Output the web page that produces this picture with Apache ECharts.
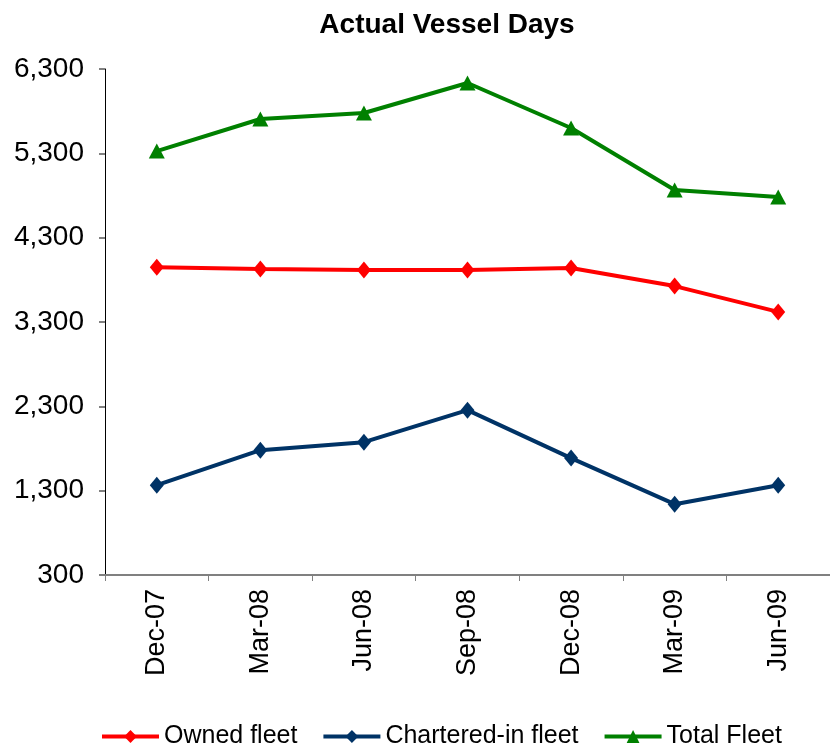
<!DOCTYPE html>
<html>
<head>
<meta charset="utf-8">
<script src="https://cdn.jsdelivr.net/npm/echarts@6/dist/echarts.min.js"></script>
<style>
  html, body { margin: 0; padding: 0; background: #fff; }
  #chart { width: 830px; height: 747px; }
</style>
</head>
<body>
<div id="chart"></div>
<script>
const categories = ['Dec-07', 'Mar-08', 'Jun-08', 'Sep-08', 'Dec-08', 'Mar-09', 'Jun-09']
const ownedFleet = [3950, 3928, 3916, 3916, 3940, 3726, 3420]
const charteredFleet = [1365, 1780, 1875, 2255, 1686, 1140, 1365]
const totalFleet = [5327, 5707, 5778, 6134, 5600, 4865, 4782]

const font = 'Liberation Sans, Arial, sans-serif'

const chart = echarts.init(document.getElementById('chart'))
chart.setOption({
    animation: false,
    title: {
        text: 'Actual Vessel Days',
        left: 442,
        top: 6,
        textAlign: 'center',
        textStyle: { fontFamily: font, fontSize: 28, fontWeight: 'bold', color: '#000' }
    },
    grid: { left: 105, top: 69, width: 732, height: 506 },
    legend: {
        top: 719,
        left: 95,
        itemWidth: 57,
        itemHeight: 16,
        itemGap: 24,
        lineStyle: { width: 4 },
        textStyle: { fontFamily: font, fontSize: 25, color: '#000' },
        data: ['Owned fleet', 'Chartered-in fleet', 'Total Fleet']
    },
    xAxis: {
        type: 'category',
        data: categories,
        boundaryGap: true,
        axisLine: { lineStyle: { color: '#808080', width: 2 } },
        axisTick: { show: true, length: 6, lineStyle: { color: '#808080' } },
        axisLabel: { rotate: 90, fontFamily: font, fontSize: 27, color: '#000', margin: 14 }
    },
    yAxis: {
        type: 'value',
        min: 300,
        max: 6300,
        interval: 1000,
        splitLine: { show: false },
        axisLine: { show: true, lineStyle: { color: '#000', width: 1 } },
        axisTick: { show: true, length: 6, lineStyle: { color: '#808080', width: 2 } },
        axisLabel: {
            fontFamily: font, fontSize: 28, color: '#000', margin: 21,
            formatter: v => v.toLocaleString('en-US')
        }
    },
    series: [
        {
            name: 'Owned fleet',
            type: 'line',
            data: ownedFleet,
            symbol: 'diamond',
            symbolSize: [14, 17],
            lineStyle: { color: '#ff0000', width: 4 },
            itemStyle: { color: '#ff0000' }
        },
        {
            name: 'Chartered-in fleet',
            type: 'line',
            data: charteredFleet,
            symbol: 'diamond',
            symbolSize: [14, 17],
            lineStyle: { color: '#003366', width: 4 },
            itemStyle: { color: '#003366' }
        },
        {
            name: 'Total Fleet',
            type: 'line',
            data: totalFleet,
            symbol: 'triangle',
            symbolSize: [16, 15],
            lineStyle: { color: '#008000', width: 4 },
            itemStyle: { color: '#008000' }
        }
    ]
})
</script>
</body>
</html>
